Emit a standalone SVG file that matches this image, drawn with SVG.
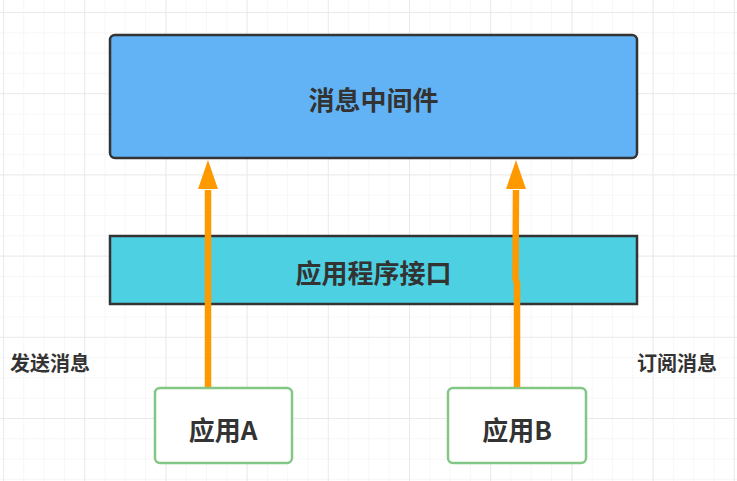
<svg xmlns="http://www.w3.org/2000/svg" width="737" height="481" viewBox="0 0 737 481">
<defs>
<pattern id="minor" x="3" y="12" width="20.3" height="20.3" patternUnits="userSpaceOnUse">
<path d="M0,0 H20.3 M0,0 V20.3" fill="none" stroke="#efefef" stroke-width="1"/>
</pattern>
<pattern id="major" x="3" y="12" width="81.2" height="81.2" patternUnits="userSpaceOnUse">
<path d="M0,0 H81.2 M0,0 V81.2" fill="none" stroke="#e6e6e6" stroke-width="1.5"/>
</pattern>
</defs>
<style>
.t{font-family:"Noto Sans CJK SC","Noto Sans",sans-serif;font-weight:bold;fill:#333333;text-anchor:middle;dominant-baseline:central}
.big{font-size:26px}
.lbl{font-family:"Noto Sans CJK SC","Noto Sans",sans-serif;font-weight:bold;fill:#333333;font-size:20px}
.app{fill:#ffffff;stroke:#82c785;stroke-width:2.5}
.conn{fill:none;stroke:#ff9900;stroke-width:6.5}
.head{fill:#ff9900}
</style>
<rect width="737" height="481" fill="#ffffff"/>
<rect width="737" height="481" fill="url(#minor)"/>
<rect width="737" height="481" fill="url(#major)"/>

<g id="middleware">
<rect x="110" y="35" width="527" height="123" rx="5" fill="#61b3f5" stroke="#333333" stroke-width="2.5"/>
<text class="t big" x="373.5" y="98">消息中间件</text>
</g>

<g id="api">
<rect x="110" y="236" width="527" height="68" fill="#4dd0e1" stroke="#333333" stroke-width="2.5"/>
<text class="t big" x="373.5" y="271">应用程序接口</text>
</g>

<g id="appA">
<rect class="app" x="155" y="388" width="137" height="75" rx="5"/>
<text class="t big" x="223" y="428">应用A</text>
</g>

<g id="appB">
<rect class="app" x="448" y="388" width="138" height="75" rx="5"/>
<text class="t big" x="517" y="428">应用B</text>
</g>

<g id="connectors">
<path class="conn" d="M208,387 V190"/>
<path class="head" d="M208,160 L218,189 L198,189 Z"/>
<path class="conn" d="M517,387 V283 L515.5,279 L516,190"/>
<path class="head" d="M516,160 L526,189 L506,189 Z"/>
</g>

<g id="labels">
<text class="lbl" x="10" y="371">发送消息</text>
<text class="lbl" x="637" y="371">订阅消息</text>
</g>
</svg>
